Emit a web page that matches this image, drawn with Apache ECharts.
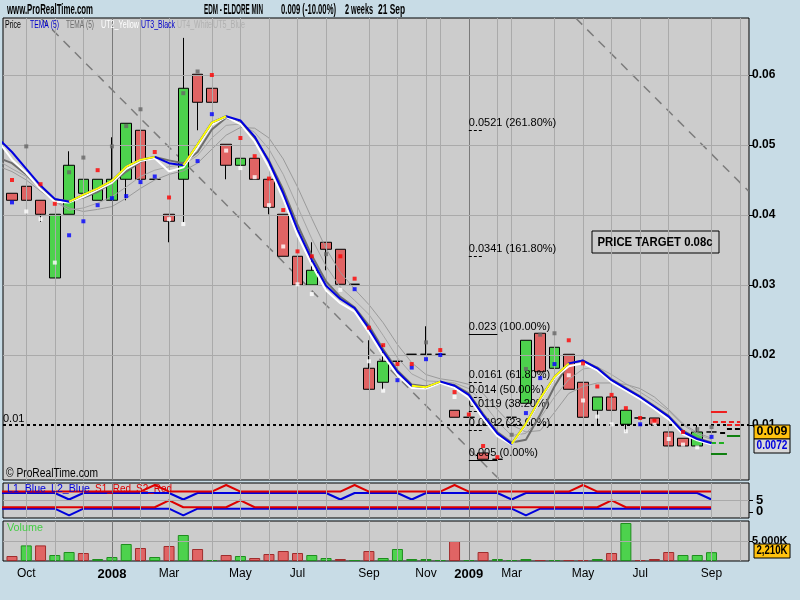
<!DOCTYPE html>
<html><head><meta charset="utf-8">
<script src="https://cdn.jsdelivr.net/npm/echarts@6/dist/echarts.min.js"></script>
<style>html,body{margin:0;padding:0;background:#c8dce6}#c{width:800px;height:600px}</style>
</head><body><div id="c"></div>
<script>
// ---------- DATA (2-week bars, bar 1 .. 50) ----------
const opens  = [0.0431,0.0441,0.0421,0.0310,0.0401,0.0431,0.0421,0.0421,0.0451,0.0521,
                0.0451,0.0401,0.0451,0.0601,0.0581,0.0501,0.0471,0.0481,0.0451,0.0401,
                0.0341,0.0300,0.0361,0.0351,0.0301,0.0181,0.0161,0.0191,0.0201,0.0201,
                0.0201,0.0121,0.0111,0.0060,0.0051,0.0111,0.0131,0.0231,0.0181,0.0201,
                0.0161,0.0121,0.0140,0.0101,0.0110,0.0110,0.0090,0.0081,0.0070,0.0090];
const closes = [0.0421,0.0421,0.0401,0.0401,0.0471,0.0451,0.0451,0.0451,0.0531,0.0451,
                0.0451,0.0391,0.0581,0.0561,0.0561,0.0471,0.0481,0.0451,0.0411,0.0341,
                0.0300,0.0321,0.0351,0.0301,0.0301,0.0151,0.0191,0.0191,0.0201,0.0201,
                0.0201,0.0111,0.0111,0.0051,0.0051,0.0111,0.0221,0.0176,0.0211,0.0151,
                0.0111,0.0140,0.0121,0.0121,0.0110,0.0101,0.0070,0.0070,0.0090,0.0090];
const lows   = [0.0421,0.0402,0.0390,0.0310,0.0401,0.0401,0.0421,0.0421,0.0421,0.0451,
                0.0451,0.0361,0.0390,0.0521,0.0561,0.0451,0.0451,0.0451,0.0401,0.0341,
                0.0300,0.0300,0.0321,0.0301,0.0301,0.0151,0.0150,0.0191,0.0201,0.0201,
                0.0201,0.0111,0.0111,0.0051,0.0051,0.0111,0.0131,0.0176,0.0181,0.0151,
                0.0111,0.0101,0.0101,0.0090,0.0110,0.0101,0.0070,0.0070,0.0070,0.0090];
const highs  = [0.0431,0.0532,0.0421,0.0401,0.0491,0.0491,0.0451,0.0511,0.0531,0.0551,
                0.0451,0.0401,0.0653,0.0601,0.0581,0.0501,0.0501,0.0481,0.0451,0.0401,
                0.0341,0.0361,0.0361,0.0351,0.0301,0.0221,0.0214,0.0191,0.0201,0.0241,
                0.0201,0.0121,0.0111,0.0060,0.0051,0.0111,0.0221,0.0231,0.0211,0.0201,
                0.0161,0.0140,0.0140,0.0121,0.0110,0.0110,0.0121,0.0081,0.0100,0.0090];
// volume in thousands
const volumes = [1250,3900,3900,1500,2250,2000,500,1000,4250,3250,
                 1000,3750,6500,3000,250,1500,1250,750,1750,2500,
                 2000,1500,750,500,250,2500,750,3000,500,500,
                 250,5000,250,2250,500,250,500,250,250,250,
                 250,500,2000,9500,250,500,2250,1500,1500,2210];

// indicator lines, bar 0 .. 50
const temaBlue  = [0.0510,0.0490,0.0466,0.0442,0.0423,0.0419,0.0429,0.0438,0.0449,0.0469,0.0479,
                   0.0483,0.0474,0.0471,0.0501,0.0532,0.0541,0.0535,0.0512,0.0476,0.0431,
                   0.0379,0.0336,0.0299,0.0280,0.0267,0.0238,0.0205,0.0176,0.0156,0.0154,
                   0.0162,0.0156,0.0143,0.0114,0.0088,0.0073,0.0102,0.0138,0.0169,0.0188,
                   0.0192,0.0181,0.0164,0.0152,0.0140,0.0126,0.0112,0.0090,0.0080,0.0074];
const utWhite   = [0.0507,0.0479,0.0460,0.0437,0.0419,0.0418,0.0426,0.0436,0.0446,0.0466,0.0477,
                   0.0481,0.0462,0.0468,0.0497,0.0529,0.0540,0.0530,0.0505,0.0468,0.0423,
                   0.0371,0.0329,0.0292,0.0274,0.0262,0.0232,0.0199,0.0171,0.0153,0.0152,
                   0.0160,0.0153,0.0139,0.0109,0.0084,0.0072,0.0100,0.0136,0.0167,0.0184,
                   0.0188,0.0178,0.0161,0.0149,0.0137,0.0123,0.0108,0.0087,0.0078,0.0072];
const temaGray  = [0.0482,0.0474,0.0458,0.0438,0.0422,0.0420,0.0425,0.0433,0.0446,0.0462,0.0476,
                   0.0483,0.0478,0.0474,0.0490,0.0522,0.0539,0.0532,0.0510,0.0478,0.0436,
                   0.0386,0.0342,0.0305,0.0283,0.0268,0.0242,0.0208,0.0178,0.0158,0.0155,
                   0.0160,0.0157,0.0145,0.0116,0.0090,0.0075,0.0079,0.0115,0.0155,0.0188,
                   0.0192,0.0182,0.0165,0.0153,0.0141,0.0127,0.0113,0.0092,0.0081,0.0075];
const ut4Line   = [0.0478,0.0466,0.0455,0.0437,0.0419,0.0407,0.0410,0.0417,0.0426,0.0440,0.0455,
                   0.0464,0.0469,0.0472,0.0485,0.0510,0.0528,0.0530,0.0518,0.0494,0.0458,
                   0.0412,0.0366,0.0327,0.0297,0.0278,0.0258,0.0228,0.0196,0.0173,0.0163,
                   0.0162,0.0160,0.0152,0.0132,0.0105,0.0085,0.0088,0.0110,0.0140,0.0165,
                   0.0180,0.0183,0.0172,0.0159,0.0147,0.0134,0.0120,0.0100,0.0087,0.0079];
const ut5Line   = [0.0470,0.0462,0.0450,0.0434,0.0420,0.0410,0.0405,0.0408,0.0412,0.0424,0.0438,
                   0.0450,0.0458,0.0463,0.0474,0.0494,0.0514,0.0525,0.0524,0.0510,0.0480,
                   0.0440,0.0395,0.0352,0.0318,0.0294,0.0272,0.0246,0.0215,0.0189,0.0172,
                   0.0166,0.0163,0.0158,0.0145,0.0122,0.0100,0.0090,0.0092,0.0118,0.0145,
                   0.0155,0.0160,0.0160,0.0158,0.0152,0.0140,0.0122,0.0102,0.0089,0.0081];
const yellowRanges = [[5,11],[13,16],[29,31],[36,40]];

// marker dots [bar, price]
const redDots   = [[1,0.0450],[3,0.0444],[4,0.0416],[7,0.0464],[11,0.0490],[12,0.0425],[15,0.0600],[17,0.0510],
                   [18,0.0484],[19,0.0452],[20,0.0407],[21,0.0348],[22,0.0341],[24,0.0341],[25,0.0309],[26,0.0239],
                   [27,0.0214],[28,0.0187],[29,0.0187],[31,0.0207],[32,0.0147],[33,0.0115],[34,0.0070],[35,0.0054],
                   [40,0.0221],[41,0.0188],[42,0.0155],[43,0.0143],[44,0.0124],[45,0.0110],[46,0.0106],[48,0.0090]];
const blueDots  = [[1,0.0418],[5,0.0371],[6,0.0391],[7,0.0414],[8,0.0424],[9,0.0427],[10,0.0447],[11,0.0455],
                   [14,0.0477],[15,0.0544],[25,0.0294],[28,0.0164],[29,0.0182],[30,0.0194],[31,0.0200],
                   [37,0.0117],[38,0.0167],[39,0.0187],[45,0.0101],[50,0.0083]];
const whiteDots = [[2,0.0405],[3,0.0394],[4,0.0332],[12,0.0394],[13,0.0387],[16,0.0492],[17,0.0467],[18,0.0454],
                   [19,0.0414],[20,0.0355],[21,0.0301],[22,0.0287],[24,0.0293],[26,0.0191],[27,0.0149],[32,0.0140],
                   [40,0.0171],[41,0.0135],[42,0.0112],[43,0.0101],[44,0.0091],[46,0.0102],[47,0.0080],[48,0.0072],[49,0.0068]];
const grayDots  = [[2,0.0498],[5,0.0461],[6,0.0482],[8,0.0498],[9,0.0527],[10,0.0551],[13,0.0574],[14,0.0605],
                   [23,0.0344],[30,0.0218],[36,0.0086],[37,0.0180],[38,0.0229],[39,0.0231],[49,0.0094],[50,0.0097]];

// trend lines [[bar, price],[bar, price]]
const trendLines = [[[3.03,0.0681],[35.2,0.0021]],[[40.5,0.0681],[52.6,0.0434]]];

// Fibonacci levels
const fibLevels = ['0.0521','0.0341','0.023','0.0161','0.014','0.0119','0.0092','0.005'];
const fibPcts   = ['261.80%','161.80%','100.00%','61.80%','50.00%','38.20%','23.60%','0.00%'];
const fibSolid  = ['0.023','0.005'];

// pivot markers [fromBar, toBar, price, kind]
const pivots = [[49.96,51.08,0.0119,'rs'],[50.1,52.0,0.0105,'rd'],[51.08,52.0,0.0100,'rd'],
                [50.6,51.08,0.0089,'kd'],[51.08,52.0,0.0095,'kd'],[49.96,51.08,0.0075,'gd'],
                [49.96,51.08,0.0059,'gs'],[51.08,52.0,0.0085,'gs']];

// L1/L2/S1/S2 indicator, bar 0 .. 50
const s1Red  = [8.6,8.6,8.6,8.6,8.6,8.6,8.6,8.6,8.6,8.6, 8.6,11.4,8.6,8.6,8.6,8.6,11.4,8.6,8.6,8.6,
                8.6,8.6,8.6,8.6,8.6,11.4,8.6,8.6,8.6,8.6, 8.6,8.6,11.4,8.6,8.6,8.6,8.6,8.6,8.6,8.6,
                8.6,11.4,8.6,8.6,8.6,8.6,8.6,8.6,8.6,8.6, 8.6];
const l1Blue = [8,8,8,8,8,5.2,8,8,8,8, 8,8,8,5.2,8,8,8,8,8,8,
                8,8,8,8,5.2,8,8,8,8,5.2, 8,8,8,8,8,8,5.2,8,8,8,
                8,8,8,8,8,8,8,8,8,8, 5.2];
const s2Red  = [1.9,1.9,1.9,1.9,1.9,1.9,1.9,1.9,1.9,1.9, 1.9,1.9,4.8,1.9,1.9,1.9,1.9,4.8,1.9,1.9,
                1.9,1.9,1.9,1.9,1.9,1.9,1.9,1.9,1.9,1.9, 1.9,1.9,1.9,1.9,1.9,1.9,1.9,1.9,1.9,1.9,
                1.9,1.9,1.9,4.8,1.9,1.9,1.9,1.9,1.9,1.9, 1.9];
const l2Blue = [1.3,1.3,1.3,1.3,1.3,-1.6,1.3,1.3,1.3,1.3, 1.3,1.3,1.3,-1.6,1.3,1.3,1.3,1.3,1.3,1.3,
                1.3,1.3,1.3,1.3,1.3,1.3,1.3,1.3,1.3,1.3, 1.3,1.3,1.3,1.3,1.3,1.3,1.3,-1.6,1.3,1.3,
                1.3,1.3,1.3,1.3,1.3,1.3,1.3,1.3,1.3,1.3, 1.3];

// axes / ticks
const monthTicks  = [2,8,12,17,21,26,30,33,36,41,45,50];
const monthLabels = ['Oct','2008','Mar','May','Jul','Sep','Nov','2009','Mar','May','Jul','Sep'];
const gridBars = [2,4,6,8,10,12,15,17,19,21,23,26,28,30,31,33,35,36,39,41,43,45,47,50,52];
const yearBars = [8,33];
const priceTicks = [0.01,0.02,0.03,0.04,0.05,0.06];
const priceGrid  = [0.02,0.03,0.04,0.05,0.06];
const indTicks = [0,5];
const volTicks = [5000];
const lastPrice = 0.009, lastTema = 0.0072, lastVolume = 2210;
const refLine = 0.01;

// ---------- CHART ----------
const GREEN = '#4dd24d', RED = '#e06464', PANEL = '#cccccc', GRIDC = '#aaaaaa', YEARC = '#7a7a7a';
const X_MIN = 0.37, X_MAX = 52.625;
const FONT = "'Liberation Sans', Arial, sans-serif";

const chart = echarts.init(document.getElementById('c'));
const idx = a => a.map((v, i) => [i, v]);
const candleData = opens.map((o, i) => [i + 1, o, closes[i], lows[i], highs[i]]);
const volData = volumes.map((v, i) => {
  const up = i === 0 ? closes[0] >= opens[0] : closes[i] >= closes[i - 1];
  return { value: [i + 1, v], itemStyle: up ? { color: GREEN, borderColor: '#1e8e1e' } : { color: RED, borderColor: '#a02c2c' } };
});
const yellowData = temaBlue.map((v, i) => [i, yellowRanges.some(([a, b]) => i >= a && i <= b) ? v : '-']);

function gridHelper(g, hLevels) {
  const data = gridBars.map(b => ({ xAxis: b, lineStyle: { color: yearBars.includes(b) ? YEARC : GRIDC, width: 1, type: 'solid' } }))
    .concat(hLevels.map(v => ({ yAxis: v, lineStyle: { color: GRIDC, width: 1, type: 'solid' } })));
  return { type: 'line', xAxisIndex: g, yAxisIndex: g, data: [], z: 1, silent: true,
    markLine: { silent: true, symbol: ['none', 'none'], label: { show: false }, animation: false, data } };
}
function lineS(data, color, width, z, g) {
  return { type: 'line', xAxisIndex: g || 0, yAxisIndex: g || 0, data, symbol: 'none', z, silent: true,
    lineStyle: { color, width }, connectNulls: false };
}
function dotS(data, color) {
  return { type: 'scatter', xAxisIndex: 0, yAxisIndex: 0, data, symbol: 'rect', symbolSize: 4, z: 7, silent: true,
    itemStyle: { color } };
}
const pivotStyle = {
  rs: { color: '#ee2020', type: 'solid' }, rd: { color: '#ee2020', type: [5, 3] },
  kd: { color: '#000000', type: [5, 3] }, gd: { color: '#20b020', type: [5, 3] }, gs: { color: '#108010', type: 'solid' }
};

const fibData = fibLevels.map((l, k) => {
  const solid = fibSolid.includes(l);
  return [
    { coord: [33.0, +l], lineStyle: { color: '#000', width: 1, type: solid ? 'solid' : [3, 2] },
      label: { show: true, position: 'insideStartTop', formatter: l + ' (' + fibPcts[k] + ')', color: '#000',
               fontSize: 11, fontFamily: FONT, distance: [0, 2] } },
    { coord: [solid ? 35.0 : 34.0, +l] }
  ];
});

const option = {
  backgroundColor: '#c8dce6',
  animation: false,
  grid: [
    { left: 3, top: 18, width: 746, height: 462, show: true, backgroundColor: PANEL, borderColor: '#000', borderWidth: 1 },
    { left: 3, top: 483, width: 746, height: 35, show: true, backgroundColor: PANEL, borderColor: '#000', borderWidth: 1 },
    { left: 3, top: 521, width: 746, height: 40, show: true, backgroundColor: PANEL, borderColor: '#000', borderWidth: 1 }
  ],
  xAxis: [0, 1, 2].map(g => ({
    type: 'value', gridIndex: g, min: X_MIN, max: X_MAX, position: 'bottom',
    axisLine: { show: false, onZero: false }, axisTick: { show: false }, splitLine: { show: false },
    axisLabel: g === 2 ? {
      show: true, customValues: monthTicks, margin: 7, color: '#000', fontSize: 12, fontFamily: FONT,
      formatter: v => { const t = monthLabels[monthTicks.indexOf(v)] || ''; return /^\d{4}$/.test(t) ? '{b|' + t + '}' : t; },
      rich: { b: { fontWeight: 'bold', fontSize: 13, fontFamily: FONT, color: '#000' } }
    } : { show: false }
  })),
  yAxis: [
    { type: 'value', gridIndex: 0, position: 'right', min: 0.00214, max: 0.06814,
      axisLine: { show: false, onZero: false }, splitLine: { show: false },
      axisTick: { show: true, customValues: priceTicks, length: 4, lineStyle: { color: '#000' } },
      axisLabel: { customValues: priceTicks, formatter: v => v.toFixed(2), color: '#000', fontWeight: 'bold', fontSize: 12, fontFamily: FONT, margin: 3 } },
    { type: 'value', gridIndex: 1, position: 'right', min: -2.69, max: 12.26,
      axisLine: { show: false, onZero: false }, splitLine: { show: false },
      axisTick: { show: false }, axisLabel: { show: false } },
    { type: 'value', gridIndex: 2, position: 'right', min: 0, max: 10000,
      axisLine: { show: false, onZero: false }, splitLine: { show: false },
      axisTick: { show: true, customValues: volTicks, length: 4, lineStyle: { color: '#000' } },
      axisLabel: { customValues: volTicks, formatter: v => v.toLocaleString('en-US') + 'K', color: '#000', fontWeight: 'bold', fontSize: 11, fontFamily: FONT, margin: 3 } }
  ],
  series: [
    gridHelper(0, priceGrid),
    gridHelper(1, [5]),
    gridHelper(2, [5000]),
    ...trendLines.map(t => ({ type: 'line', xAxisIndex: 0, yAxisIndex: 0, data: t, symbol: 'none', z: 2, silent: true,
      lineStyle: { color: '#7c7c7c', width: 1.5, type: [9, 7] } })),
    { type: 'candlestick', xAxisIndex: 0, yAxisIndex: 0, data: candleData, barWidth: 11, z: 3, silent: true,
      itemStyle: { color: GREEN, color0: RED, borderColor: '#000', borderColor0: '#000', borderColorDoji: '#000', borderWidth: 1 } },
    lineS(idx(ut5Line), '#9a9a9a', 1, 4),
    lineS(idx(ut4Line), '#a4a4a4', 1, 4),
    lineS(idx(temaGray), '#6e6e6e', 2, 5),
    lineS(idx(utWhite), '#ffffff', 2, 5),
    lineS(idx(temaBlue), '#0000e0', 2, 5),
    lineS(yellowData, '#ffff00', 2, 6),
    dotS(grayDots, '#666666'),
    dotS(whiteDots, '#ffffff'),
    dotS(blueDots, '#0000ff'),
    dotS(redDots, '#ff0000'),
    { type: 'line', xAxisIndex: 0, yAxisIndex: 0, data: [], z: 8, silent: true,
      markLine: { silent: true, symbol: ['none', 'none'], animation: false,
        data: [{ yAxis: refLine, lineStyle: { color: '#000', width: 2, type: [3, 3] },
                 label: { show: true, position: 'insideStartTop', formatter: '0.01', color: '#000', fontSize: 11, fontFamily: FONT, distance: [0, 1] } }]
          .concat(fibData)
          .concat(pivots.map(p => [{ coord: [p[0], p[2]], lineStyle: Object.assign({ width: 2 }, pivotStyle[p[3]]), label: { show: false } }, { coord: [p[1], p[2]] }]))
      } },
    { type: 'bar', xAxisIndex: 2, yAxisIndex: 2, data: volData, barWidth: 11, z: 3, silent: true, itemStyle: { borderWidth: 1 } },
    lineS(idx(l1Blue), '#0000dd', 2, 3, 1),
    lineS(idx(l2Blue), '#0000dd', 2, 3, 1),
    lineS(idx(s1Red), '#dd0000', 2, 4, 1),
    lineS(idx(s2Red), '#dd0000', 2, 4, 1)
  ]
};
chart.setOption(option);

// ---------- annotations placed through the chart's own scales ----------
const py = v => chart.convertToPixel({ yAxisIndex: 0 }, v);
const pi = v => chart.convertToPixel({ yAxisIndex: 1 }, v);
const pv = v => chart.convertToPixel({ yAxisIndex: 2 }, v);
const mctx = document.createElement('canvas').getContext('2d');
function fit(x, y, text, w, fill, size, weight, align) {
  mctx.font = (weight || 'normal') + ' ' + size + 'px ' + FONT;
  const s = Math.min(1.25, w / mctx.measureText(text).width);
  return { type: 'text', x, y, silent: true, z: 100, scaleX: s,
    style: { text, fill, fontSize: size, fontWeight: weight || 'normal', fontFamily: FONT, verticalAlign: 'middle', align: align || 'left' } };
}
function valBox(yc, text, fill, color) {
  return { type: 'group', silent: true, z: 100, children: [
    { type: 'rect', shape: { x: 754, y: Math.round(yc) - 7, width: 36, height: 14 }, style: { fill, stroke: '#000', lineWidth: 1 }, z: 100 },
    fit(772, Math.round(yc), text, 31, color, 12, 'bold', 'center')
  ] };
}
const indAxis = indTicks.map(v => ({ type: 'group', silent: true, z: 100, children: [
  { type: 'line', shape: { x1: 749, y1: Math.round(pi(v)) + 0.5, x2: 753, y2: Math.round(pi(v)) + 0.5 }, style: { stroke: '#000', lineWidth: 1 } },
  { type: 'text', x: 756, y: pi(v), style: { text: String(v), fill: '#000', fontSize: 13, fontWeight: 'bold', fontFamily: FONT, verticalAlign: 'middle', align: 'left' } }
] }));
chart.setOption({ graphic: [
  fit(7, 10, 'www.ProRealTime.com', 86, '#000', 14, 'bold'),
  fit(204, 10, 'EDM - ELDORE MIN', 59, '#000', 14, 'bold'),
  fit(281, 10, '0.009 (-10.00%)', 55, '#000', 14, 'bold'),
  fit(345, 10, '2 weeks', 28, '#000', 14, 'bold'),
  fit(378, 10, '21 Sep', 27, '#000', 14, 'bold'),
  fit(5, 25, 'Price', 16, '#000', 11),
  fit(30, 25, 'TEMA (5)', 29, '#0000cc', 11),
  fit(66, 25, 'TEMA (5)', 28, '#6e6e6e', 11),
  fit(101, 25, 'UT2_Yellow', 38, '#ffffff', 11),
  fit(141, 25, 'UT3_Black', 34, '#0000cc', 11),
  fit(177, 25, 'UT4_White', 35, '#b0b0b0', 11),
  fit(213, 25, 'UT5_Blue', 32, '#b0b0b0', 11),
  fit(6, 474, '\u00a9 ProRealTime.com', 92, '#000', 12),
  fit(7, 489, 'L1_Blue', 39, '#0000dd', 11),
  fit(51, 489, 'L2_Blue', 39, '#0000dd', 11),
  fit(95, 489, 'S1_Red', 36, '#dd0000', 11),
  fit(136, 489, 'S2_Red', 36, '#dd0000', 11),
  fit(7, 528, 'Volume', 36, '#44cc44', 11),
  { type: 'group', silent: true, z: 100, children: [
    { type: 'rect', shape: { x: 592, y: 231, width: 127, height: 22 }, style: { fill: 'transparent', stroke: '#000', lineWidth: 1 } },
    fit(655, 242, 'PRICE TARGET 0.08c', 115, '#000', 13, 'bold', 'center')
  ] },
  ...indAxis,
  valBox(py(lastPrice), lastPrice.toString(), '#ffc20e', '#000'),
  valBox(py(lastTema) + 1, lastTema.toString(), '#d8d8d8', '#0000dd'),
  valBox(pv(lastVolume) - 1, lastVolume.toLocaleString('en-US') + 'K', '#ffc20e', '#000')
] });
</script>
</body></html>
